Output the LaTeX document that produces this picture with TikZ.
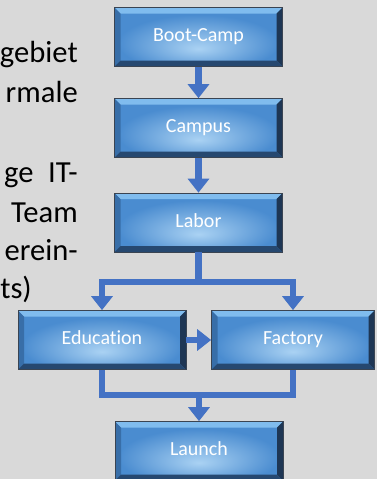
\documentclass[tikz,border=0pt]{standalone}
\usepackage{fontspec}
\setmainfont{Carlito}[Ligatures=NoCommon]
\newfontfamily\sidefamily{Carlito}[Scale=1.53, Ligatures=NoCommon]
\usetikzlibrary{arrows.meta,positioning,calc}
\definecolor{slidegray}{RGB}{217,217,217}
\definecolor{flowblue}{RGB}{68,114,196}
\definecolor{boxlight}{RGB}{170,210,243}
\definecolor{boxmid}{RGB}{74,140,208}
\definecolor{bevtop}{RGB}{128,188,238}
\definecolor{bevleft}{RGB}{56,110,168}
\definecolor{bevright}{RGB}{30,54,84}
\definecolor{bevbottom}{RGB}{38,72,112}
\definecolor{boxrim}{RGB}{58,68,82}
\pgfdeclareradialshading{boxglow}{\pgfpoint{0bp}{-10bp}}{color(0bp)=(boxlight); color(24bp)=(boxmid); color(50bp)=(boxmid)}
\newcommand\stagefont{\fontsize{15}{18}\selectfont}

\tikzset{
  stagebox/.style={rectangle, minimum width=126pt, minimum height=44.25pt, inner sep=0pt,
    text=white, font=\stagefont, text height=0.8em, text depth=0.1em,
    draw=boxrim, line width=0.5pt,
    path picture={
      \coordinate (pnw) at (path picture bounding box.north west);
      \coordinate (pne) at (path picture bounding box.north east);
      \coordinate (psw) at (path picture bounding box.south west);
      \coordinate (pse) at (path picture bounding box.south east);
      \shade[shading=boxglow] (psw) rectangle (pne);
      \fill[bevtop] (pnw) -- (pne) -- ($(pne)+(-4.5pt,-4.5pt)$) -- ($(pnw)+(4.5pt,-4.5pt)$) -- cycle;
      \fill[bevleft] (pnw) -- (psw) -- ($(psw)+(4.5pt,4.5pt)$) -- ($(pnw)+(4.5pt,-4.5pt)$) -- cycle;
      \fill[bevright] (pne) -- (pse) -- ($(pse)+(-4.5pt,4.5pt)$) -- ($(pne)+(-4.5pt,-4.5pt)$) -- cycle;
      \fill[bevbottom] (psw) -- (pse) -- ($(pse)+(-4.5pt,4.5pt)$) -- ($(psw)+(4.5pt,4.5pt)$) -- cycle;
    }},
  flowline/.style={draw=flowblue, line width=4.9pt},
  flow/.style={flowline, -{Triangle[length=10.5pt,width=15.75pt]}},
  sidetext/.style={anchor=base east, inner sep=0pt, font=\sidefamily\stagefont},
}

\begin{document}
\begin{tikzpicture}[x=0.75pt, y=-0.75pt]
    \useasboundingbox (0,0) rectangle (377,479);
    \fill[slidegray] (0,0) rectangle (377,479);

    % Text at the left, cut off by the slide edge
    \node[sidetext] (t1) at (78,62) {gebiet};
    \node[sidetext] (t2) at (78,102) {rmale};
    \node[sidetext] (t3) at (78,182) {ge\hspace{11pt}IT-};
    \node[sidetext] (t4) at (78,222) {Team};
    \node[sidetext] (t5) at (78,260) {erein-};
    \node[sidetext, anchor=base west] (t6) at (0,298) {ts)};

    % Stages
    \node[stagebox] (boot) at (198.5,37) {Boot-Camp};
    \node[stagebox] (campus) at (198.5,128) {Campus};
    \node[stagebox] (labor) at (198.5,222.5) {Labor};
    \node[stagebox] (edu) at (102,340) {Education};
    \node[stagebox, minimum width=122.25pt] (fac) at (293,340) {Factory};
    \node[stagebox] (launch) at (199,451) {Launch};

    % Arrows down the column
    \draw[flow] (boot) -- (campus);
    \draw[flow] (campus) -- (labor);

    % Split to Education and Factory
    \coordinate (split) at (198.5,282);
    \draw[flowline] (labor) -- (split);
    \draw[flow] (split) -| (edu);
    \draw[flow] (split) -| (fac);
    \draw[flow] (edu) -- (fac);

    % Merge to Launch
    \coordinate (merge) at (199,395);
    \draw[flowline] (edu) |- (merge);
    \draw[flowline] (fac) |- (merge);
    \draw[flow] (merge) -- (launch);
\end{tikzpicture}
\end{document}
